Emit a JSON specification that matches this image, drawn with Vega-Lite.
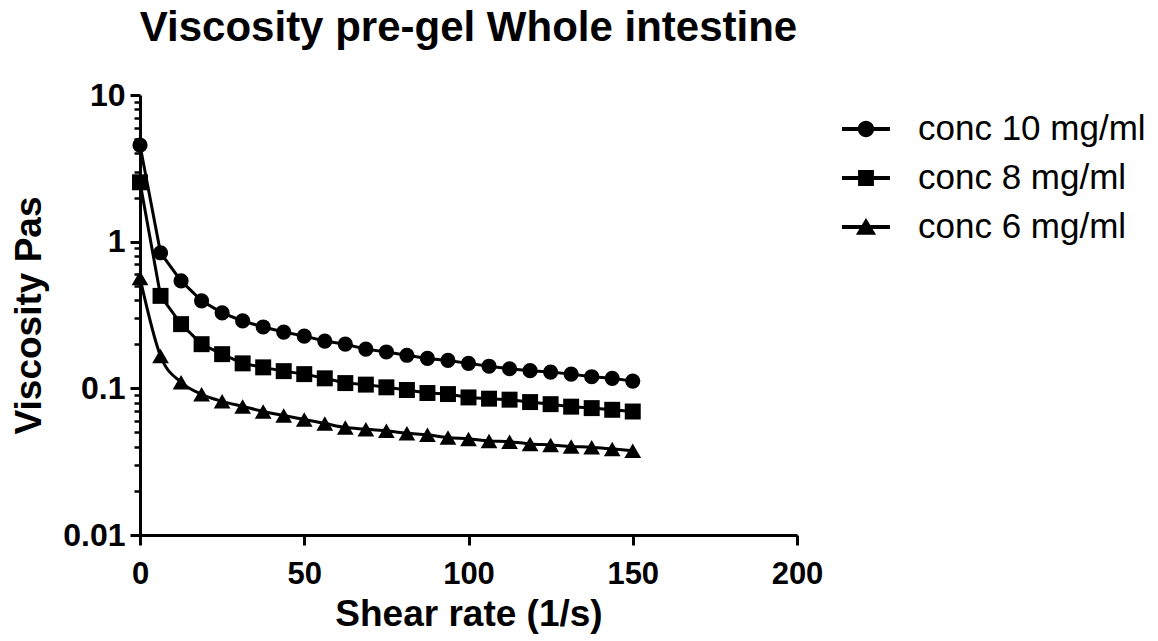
{
  "$schema": "https://vega.github.io/schema/vega-lite/v6.json",
  "width": 657,
  "height": 440,
  "autosize": {"type": "none"},
  "padding": {"left": 140, "top": 95, "right": 361, "bottom": 106},
  "background": "white",
  "config": {
    "view": {"stroke": null},
    "font": "Liberation Sans"
  },
  "title": {
    "text": "Viscosity pre-gel Whole intestine",
    "font": "Liberation Sans",
    "fontSize": 42,
    "fontWeight": "bold",
    "color": "black",
    "anchor": "middle",
    "frame": "group",
    "baseline": "alphabetic",
    "offset": -4
  },
  "data": {
    "values": [
      {"x": 0, "s": "conc 10 mg/ml", "v": 4.55},
      {"x": 6.25, "s": "conc 10 mg/ml", "v": 0.84},
      {"x": 12.5, "s": "conc 10 mg/ml", "v": 0.54},
      {"x": 18.75, "s": "conc 10 mg/ml", "v": 0.395},
      {"x": 25, "s": "conc 10 mg/ml", "v": 0.327},
      {"x": 31.25, "s": "conc 10 mg/ml", "v": 0.288},
      {"x": 37.5, "s": "conc 10 mg/ml", "v": 0.262},
      {"x": 43.75, "s": "conc 10 mg/ml", "v": 0.242},
      {"x": 50, "s": "conc 10 mg/ml", "v": 0.227},
      {"x": 56.25, "s": "conc 10 mg/ml", "v": 0.21},
      {"x": 62.5, "s": "conc 10 mg/ml", "v": 0.2},
      {"x": 68.75, "s": "conc 10 mg/ml", "v": 0.185},
      {"x": 75, "s": "conc 10 mg/ml", "v": 0.177},
      {"x": 81.25, "s": "conc 10 mg/ml", "v": 0.168},
      {"x": 87.5, "s": "conc 10 mg/ml", "v": 0.16},
      {"x": 93.75, "s": "conc 10 mg/ml", "v": 0.155},
      {"x": 100, "s": "conc 10 mg/ml", "v": 0.148},
      {"x": 106.25, "s": "conc 10 mg/ml", "v": 0.1415},
      {"x": 112.5, "s": "conc 10 mg/ml", "v": 0.136},
      {"x": 118.75, "s": "conc 10 mg/ml", "v": 0.132},
      {"x": 125, "s": "conc 10 mg/ml", "v": 0.129},
      {"x": 131.25, "s": "conc 10 mg/ml", "v": 0.125},
      {"x": 137.5, "s": "conc 10 mg/ml", "v": 0.12},
      {"x": 143.75, "s": "conc 10 mg/ml", "v": 0.117},
      {"x": 150, "s": "conc 10 mg/ml", "v": 0.112},
      {"x": 0, "s": "conc 8 mg/ml", "v": 2.54},
      {"x": 6.25, "s": "conc 8 mg/ml", "v": 0.427},
      {"x": 12.5, "s": "conc 8 mg/ml", "v": 0.274},
      {"x": 18.75, "s": "conc 8 mg/ml", "v": 0.2},
      {"x": 25, "s": "conc 8 mg/ml", "v": 0.171},
      {"x": 31.25, "s": "conc 8 mg/ml", "v": 0.148},
      {"x": 37.5, "s": "conc 8 mg/ml", "v": 0.139},
      {"x": 43.75, "s": "conc 8 mg/ml", "v": 0.131},
      {"x": 50, "s": "conc 8 mg/ml", "v": 0.125},
      {"x": 56.25, "s": "conc 8 mg/ml", "v": 0.117},
      {"x": 62.5, "s": "conc 8 mg/ml", "v": 0.1086},
      {"x": 68.75, "s": "conc 8 mg/ml", "v": 0.106},
      {"x": 75, "s": "conc 8 mg/ml", "v": 0.1016},
      {"x": 81.25, "s": "conc 8 mg/ml", "v": 0.0974},
      {"x": 87.5, "s": "conc 8 mg/ml", "v": 0.0929},
      {"x": 93.75, "s": "conc 8 mg/ml", "v": 0.0914},
      {"x": 100, "s": "conc 8 mg/ml", "v": 0.0867},
      {"x": 106.25, "s": "conc 8 mg/ml", "v": 0.085},
      {"x": 112.5, "s": "conc 8 mg/ml", "v": 0.0837},
      {"x": 118.75, "s": "conc 8 mg/ml", "v": 0.0806},
      {"x": 125, "s": "conc 8 mg/ml", "v": 0.078},
      {"x": 131.25, "s": "conc 8 mg/ml", "v": 0.075},
      {"x": 137.5, "s": "conc 8 mg/ml", "v": 0.0733},
      {"x": 143.75, "s": "conc 8 mg/ml", "v": 0.0714},
      {"x": 150, "s": "conc 8 mg/ml", "v": 0.0695},
      {"x": 0, "s": "conc 6 mg/ml", "v": 0.566},
      {"x": 6.25, "s": "conc 6 mg/ml", "v": 0.166},
      {"x": 12.5, "s": "conc 6 mg/ml", "v": 0.11},
      {"x": 18.75, "s": "conc 6 mg/ml", "v": 0.091},
      {"x": 25, "s": "conc 6 mg/ml", "v": 0.0815},
      {"x": 31.25, "s": "conc 6 mg/ml", "v": 0.0753},
      {"x": 37.5, "s": "conc 6 mg/ml", "v": 0.0696},
      {"x": 43.75, "s": "conc 6 mg/ml", "v": 0.0653},
      {"x": 50, "s": "conc 6 mg/ml", "v": 0.0613},
      {"x": 56.25, "s": "conc 6 mg/ml", "v": 0.0576},
      {"x": 62.5, "s": "conc 6 mg/ml", "v": 0.054},
      {"x": 68.75, "s": "conc 6 mg/ml", "v": 0.0527},
      {"x": 75, "s": "conc 6 mg/ml", "v": 0.0513},
      {"x": 81.25, "s": "conc 6 mg/ml", "v": 0.0494},
      {"x": 87.5, "s": "conc 6 mg/ml", "v": 0.0482},
      {"x": 93.75, "s": "conc 6 mg/ml", "v": 0.0462},
      {"x": 100, "s": "conc 6 mg/ml", "v": 0.0452},
      {"x": 106.25, "s": "conc 6 mg/ml", "v": 0.0438},
      {"x": 112.5, "s": "conc 6 mg/ml", "v": 0.0433},
      {"x": 118.75, "s": "conc 6 mg/ml", "v": 0.0418},
      {"x": 125, "s": "conc 6 mg/ml", "v": 0.0411},
      {"x": 131.25, "s": "conc 6 mg/ml", "v": 0.0402},
      {"x": 137.5, "s": "conc 6 mg/ml", "v": 0.0396},
      {"x": 143.75, "s": "conc 6 mg/ml", "v": 0.0386},
      {"x": 150, "s": "conc 6 mg/ml", "v": 0.0376}
    ]
  },
  "encoding": {
    "x": {
      "field": "x", "type": "quantitative",
      "scale": {"domain": [0, 200], "nice": false, "zero": false},
      "axis": {
        "values": [0, 50, 100, 150, 200],
        "title": "Shear rate (1/s)",
        "grid": false,
        "domainColor": "black", "domainWidth": 3,
        "tickColor": "black", "tickWidth": 3, "tickSize": 10,
        "labelFont": "Liberation Sans", "labelFontSize": 31, "labelFontWeight": "bold", "labelColor": "black",
        "labelPadding": 14, "labelFlush": false, "labelOverlap": false,
        "titleFont": "Liberation Sans", "titleFontSize": 37, "titleFontWeight": "bold", "titleColor": "black",
        "titlePadding": 7
      }
    }
  },
  "layer": [
    {
      "transform": [{"filter": "datum.s != 'conc 6 mg/ml'"}],
      "mark": {"type": "line", "color": "black", "strokeWidth": 3},
      "encoding": {
        "y": {
          "field": "v", "type": "quantitative",
          "scale": {"type": "log", "domain": [0.01, 10], "nice": false},
          "axis": {
            "orient": "left",
            "values": [0.01, 0.1, 1, 10],
            "format": "~g",
            "title": "Viscosity Pas",
            "grid": false,
            "domainColor": "black", "domainWidth": 3,
            "tickColor": "black", "tickWidth": 3, "tickSize": 10,
            "labelFont": "Liberation Sans", "labelFontSize": 32, "labelFontWeight": "bold", "labelColor": "black",
            "labelPadding": 5, "labelFlush": false, "labelOverlap": false,
            "titleFont": "Liberation Sans", "titleFontSize": 37, "titleFontWeight": "bold", "titleColor": "black",
            "titlePadding": 14
          }
        },
        "detail": {"field": "s", "type": "nominal"}
      }
    },
    {
      "transform": [{"filter": "datum.s == 'conc 6 mg/ml'"}],
      "mark": {"type": "line", "color": "black", "strokeWidth": 3, "interpolate": "monotone"},
      "encoding": {
        "y": {
          "field": "v", "type": "quantitative",
          "axis": {
            "orient": "left",
            "values": [0.02, 0.03, 0.04, 0.05, 0.06, 0.07, 0.08, 0.09, 0.2, 0.3, 0.4, 0.5, 0.6, 0.7, 0.8, 0.9, 2, 3, 4, 5, 6, 7, 8, 9],
            "labels": false, "domain": false, "grid": false, "title": null,
            "tickColor": "black", "tickWidth": 2.5, "tickSize": 6
          }
        }
      }
    },
    {
      "mark": {"type": "point", "filled": true, "color": "black", "opacity": 1},
      "encoding": {
        "y": {"field": "v", "type": "quantitative", "axis": null},
        "shape": {
          "field": "s", "type": "nominal",
          "scale": {"domain": ["conc 10 mg/ml", "conc 8 mg/ml", "conc 6 mg/ml"], "range": ["circle", "square", "triangle-up"]},
          "legend": null
        },
        "size": {
          "field": "s", "type": "nominal",
          "scale": {"domain": ["conc 10 mg/ml", "conc 8 mg/ml", "conc 6 mg/ml"], "range": [230, 280, 300]},
          "legend": null
        }
      }
    },
    {
      "mark": {"type": "point", "filled": true, "color": "black", "opacity": 0},
      "encoding": {
        "y": {"field": "v", "type": "quantitative", "axis": null},
        "shape": {
          "field": "s", "type": "nominal",
          "scale": {
            "domain": ["conc 10 mg/ml", "conc 8 mg/ml", "conc 6 mg/ml"],
            "range": [
              "M-1,-0.08L1,-0.08L1,0.08L-1,0.08ZM0.34,0A0.34,0.34,0,1,1,-0.34,0A0.34,0.34,0,1,1,0.34,0Z",
              "M-1,-0.08L1,-0.08L1,0.08L-1,0.08ZM-0.33,-0.33L0.33,-0.33L0.33,0.33L-0.33,0.33Z",
              "M-1,-0.08L1,-0.08L1,0.08L-1,0.08ZM0,-0.38L0.42,0.32L-0.42,0.32Z"
            ]
          },
          "legend": {
            "orient": "none",
            "legendX": 702,
            "legendY": 10,
            "title": null,
            "padding": 0,
            "rowPadding": 7,
            "symbolSize": 2304,
            "symbolStrokeWidth": 0,
            "symbolFillColor": "black",
            "symbolOpacity": 1,
            "labelFont": "Liberation Sans",
            "labelFontSize": 35,
            "labelColor": "black",
            "labelOffset": 28,
            "labelLimit": 400,
            "encode": {
              "symbols": {
                "fill": {"value": "black"},
                "opacity": {"value": 1}
              }
            }
          }
        }
      }
    }
  ],
  "resolve": {"scale": {"shape": "independent"}, "axis": {"y": "independent"}}
}
